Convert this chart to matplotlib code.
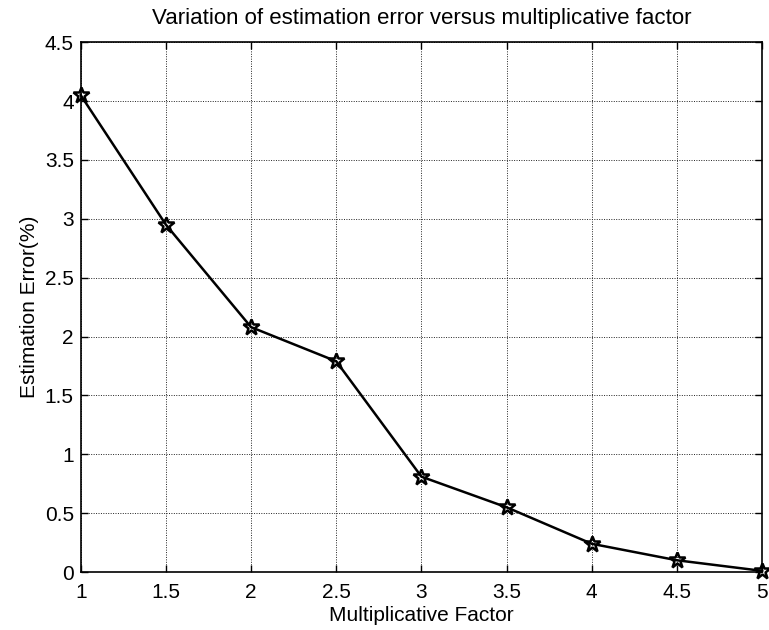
import matplotlib
matplotlib.use("Agg")
import matplotlib.pyplot as plt

factor = [1, 1.5, 2, 2.5, 3, 3.5, 4, 4.5, 5]
error = [4.05, 2.95, 2.08, 1.79, 0.81, 0.55, 0.24, 0.10, 0.01]

xticks = [1, 1.5, 2, 2.5, 3, 3.5, 4, 4.5, 5]
yticks = [0, 0.5, 1, 1.5, 2, 2.5, 3, 3.5, 4, 4.5]

plt.rcParams['font.family'] = ['Liberation Sans', 'DejaVu Sans']

fig = plt.figure(figsize=(7.69, 6.3), dpi=100)
ax = fig.add_axes([0.105, 0.092, 0.886, 0.841])

ax.plot(factor, error, color='black', linewidth=1.8, marker='*',
        markersize=12, markerfacecolor='none', markeredgecolor='black',
        markeredgewidth=1.8, clip_on=False, zorder=3)

ax.set_xlim(1, 5)
ax.set_ylim(0, 4.5)
ax.set_xticks(xticks)
ax.set_xticklabels(['1', '1.5', '2', '2.5', '3', '3.5', '4', '4.5', '5'])
ax.set_yticks(yticks)
ax.set_yticklabels(['0', '0.5', '1', '1.5', '2', '2.5', '3', '3.5', '4', '4.5'])
ax.tick_params(direction='in', length=5, labelsize=15, width=1, pad=5,
               top=True, right=True)
ax.tick_params(axis='x', pad=8)
ax.grid(True, color='#222222', linestyle=(0, (1, 1.5)), linewidth=0.7)
for s in ax.spines.values():
    s.set_linewidth(1.2)

ax.set_xlabel('Multiplicative Factor', fontsize=15, labelpad=3)
ax.set_ylabel('Estimation Error(%)', fontsize=15, labelpad=4)
ax.set_title('Variation of estimation error versus multiplicative factor',
             fontsize=16, pad=13)

fig.savefig('out.png', dpi=100)
